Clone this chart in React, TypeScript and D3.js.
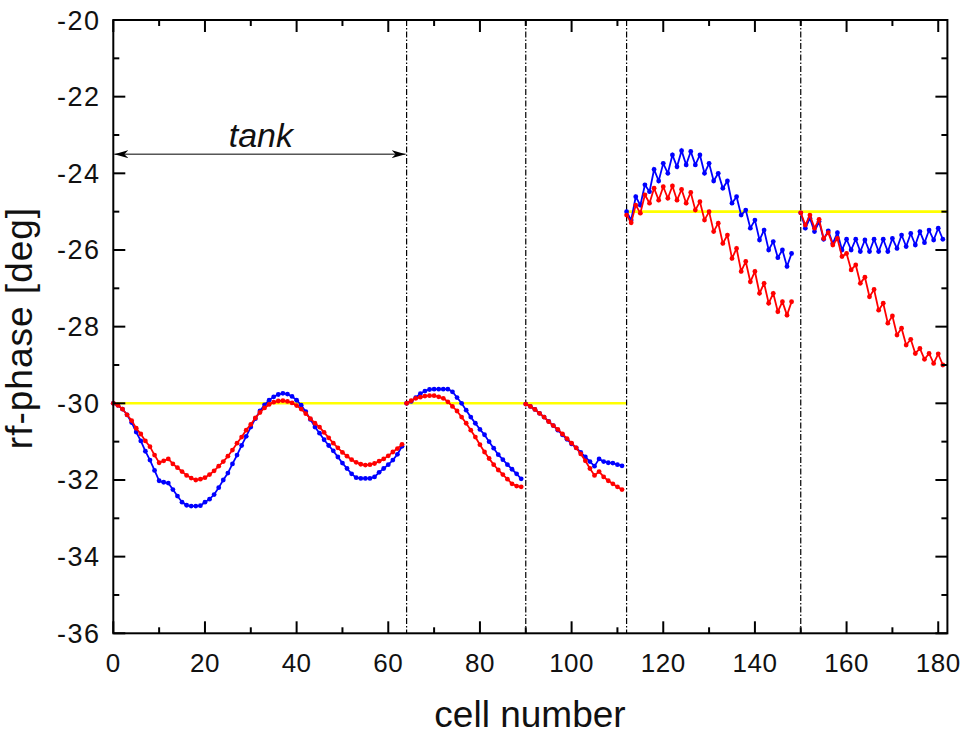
import React from "react";
import * as d3 from "d3";

// cells where each accelerating section starts, and the tank boundaries
const sectionStarts = [0, 64, 90, 112, 150];
const dividers = [64, 90, 112, 150];

// design phase (yellow)
const designFrom = [0, 112];
const designTo = [112, 182];
const designPhase = [-30, -25];

// red series, one array per section
const redPhase = [
  [-30.0, -30.05, -30.15, -30.3, -30.45, -30.65, -30.8, -30.98, -31.13, -31.35,
   -31.55, -31.5, -31.45, -31.58, -31.68, -31.78, -31.88, -31.95, -32.0, -31.98,
   -31.94, -31.86, -31.76, -31.64, -31.52, -31.38, -31.22, -31.04, -30.88, -30.7,
   -30.55, -30.38, -30.24, -30.12, -30.03, -29.97, -29.94, -29.93, -29.95, -29.99,
   -30.06, -30.15, -30.27, -30.4, -30.52, -30.62, -30.76, -30.9, -31.04, -31.16,
   -31.28, -31.38, -31.47, -31.54, -31.59, -31.61, -31.6, -31.57, -31.51, -31.45,
   -31.37, -31.27, -31.18, -31.07],
  [-30.0, -29.93, -29.87, -29.84, -29.81, -29.8, -29.8, -29.83, -29.87, -29.96,
   -30.08, -30.2, -30.36, -30.52, -30.7, -30.88, -31.08, -31.27, -31.44, -31.6,
   -31.74, -31.86, -31.98, -32.1, -32.16, -32.18],
  [-30.02, -30.08, -30.16, -30.26, -30.36, -30.48, -30.58, -30.68, -30.8, -30.92,
   -31.04, -31.16, -31.32, -31.5, -31.7, -31.88, -31.78, -31.92, -32.02, -32.1,
   -32.18, -32.25],
  [-25.09, -25.29, -24.83, -25.04, -24.56, -24.78, -24.39, -24.7, -24.35, -24.65,
   -24.33, -24.7, -24.42, -24.78, -24.5, -24.96, -24.74, -25.22, -25.0, -25.52,
   -25.3, -25.83, -25.61, -26.22, -25.96, -26.56, -26.3, -26.83, -26.56, -27.13,
   -26.87, -27.39, -27.13, -27.61, -27.35, -27.7, -27.35],
  [-25.03, -25.35, -25.09, -25.43, -25.2, -25.7, -25.55, -25.87, -25.7, -26.17,
   -26.09, -26.52, -26.39, -26.87, -26.71, -27.22, -27.03, -27.57, -27.39, -27.91,
   -27.72, -28.22, -28.04, -28.48, -28.33, -28.7, -28.57, -28.85, -28.7, -28.96,
   -28.71, -29.0],
];

// blue series, one array per section
const bluePhase = [
  [-30.0, -30.05, -30.15, -30.3, -30.5, -30.75, -30.98, -31.25, -31.48, -31.75,
   -32.02, -32.06, -32.08, -32.25, -32.42, -32.58, -32.66, -32.68, -32.68, -32.67,
   -32.58, -32.5, -32.38, -32.2, -32.0, -31.82, -31.58, -31.35, -31.1, -30.86,
   -30.62, -30.4, -30.2, -30.04, -29.92, -29.83, -29.77, -29.74, -29.76, -29.82,
   -29.92, -30.05, -30.22, -30.42, -30.62, -30.78, -30.95, -31.1, -31.24, -31.4,
   -31.56, -31.7, -31.84, -31.94, -31.96, -31.96, -31.96, -31.92, -31.8, -31.7,
   -31.6, -31.48, -31.33, -31.12],
  [-30.0, -29.95, -29.85, -29.75, -29.68, -29.64, -29.63, -29.63, -29.63, -29.63,
   -29.7, -29.85, -30.0, -30.18, -30.36, -30.52, -30.68, -30.82, -31.0, -31.17,
   -31.34, -31.47, -31.6, -31.72, -31.84, -31.97],
  [-30.02, -30.08, -30.16, -30.26, -30.36, -30.47, -30.58, -30.7, -30.82, -30.94,
   -31.06, -31.16, -31.28, -31.4, -31.52, -31.64, -31.45, -31.52, -31.55, -31.56,
   -31.6, -31.63],
  [-25.0, -25.22, -24.61, -24.83, -24.3, -24.48, -23.9, -24.2, -23.74, -24.0,
   -23.52, -23.83, -23.41, -23.78, -23.43, -23.78, -23.52, -24.0, -23.74, -24.2,
   -24.0, -24.39, -24.2, -24.78, -24.61, -25.09, -24.96, -25.43, -25.22, -25.74,
   -25.48, -26.0, -25.78, -26.2, -26.0, -26.43, -26.09],
  [-25.03, -25.43, -25.17, -25.52, -25.26, -25.72, -25.5, -25.83, -25.55, -26.0,
   -25.72, -26.0, -25.72, -26.04, -25.74, -26.04, -25.72, -26.04, -25.72, -26.04,
   -25.7, -25.96, -25.61, -25.91, -25.57, -25.87, -25.52, -25.81, -25.48, -25.74,
   -25.43, -25.72],
];

const xTickLabels = ["0", "20", "40", "60", "80", "100", "120", "140", "160", "180"];
const yTickLabels = ["-20", "-22", "-24", "-26", "-28", "-30", "-32", "-34", "-36"];

const W = 960;
const H = 737;
const plot = { left: 113.3, right: 947.4, top: 20, bottom: 633.3 };
const font = "Arial, 'Liberation Sans', Helvetica, sans-serif";

export default function App() {
  const x = d3.scaleLinear().domain([0, 182]).range([plot.left, plot.right]);
  const y = d3.scaleLinear().domain([-36, -20]).range([plot.bottom, plot.top]);

  const toPts = (sec: number[][]) =>
    sec.map((vals, s) => vals.map((v, i) => ({ c: sectionStarts[s] + i, v })));
  const red = toPts(redPhase);
  const blue = toPts(bluePhase);

  const line = d3
    .line<{ c: number; v: number }>()
    .x((d) => x(d.c))
    .y((d) => y(d.v));

  const xMajor = d3.range(0, 181, 20);
  const xMinor = d3.range(10, 181, 20);
  const yMajor = d3.range(-36, -19, 2);
  const yMinor = d3.range(-35, -20, 2);

  const series = (data: { c: number; v: number }[][], color: string) => (
    <g>
      {data.map((seg, i) => (
        <g key={i}>
          <path d={line(seg) || ""} fill="none" stroke={color} strokeWidth={1.8} />
          {seg.map((d, j) => (
            <circle key={j} cx={x(d.c)} cy={y(d.v)} r={2.4} fill={color} />
          ))}
        </g>
      ))}
    </g>
  );

  const arrowY = y(-23.5);

  return (
    <svg
      width={W}
      height={H}
      style={{ position: "absolute", left: 0, top: 0, background: "#fff" }}
    >
      <defs>
        <marker id="ah" viewBox="0 0 14 8" refX="14" refY="4" markerWidth="14" markerHeight="8"
          markerUnits="userSpaceOnUse" orient="auto-start-reverse">
          <path d="M0,0 L14,4 L0,8 L4,4 Z" fill="#000" />
        </marker>
      </defs>

      {/* design phase */}
      {designPhase.map((v, i) => (
        <line key={i} x1={x(designFrom[i])} x2={x(designTo[i])} y1={y(v)} y2={y(v)}
          stroke="#ffff00" strokeWidth={2.6} />
      ))}

      {/* tank boundaries */}
      {dividers.map((c) => (
        <line key={c} x1={x(c)} x2={x(c)} y1={plot.top} y2={plot.bottom}
          stroke="#000" strokeWidth={1.2} strokeDasharray="6,2,1.5,2" />
      ))}

      {series(blue, "#0000ff")}
      {series(red, "#ff0000")}

      {/* tank arrow */}
      <line x1={x(0) + 1} x2={x(64) - 1} y1={arrowY} y2={arrowY} stroke="#000" strokeWidth={1}
        markerStart="url(#ah)" markerEnd="url(#ah)" />
      <text x={x(32.2)} y={147} textAnchor="middle" fontFamily={font} fontStyle="italic"
        fontSize={34} fill="#111">tank</text>

      {/* frame */}
      <rect x={plot.left} y={plot.top} width={plot.right - plot.left} height={plot.bottom - plot.top}
        fill="none" stroke="#000" strokeWidth={2} />

      {/* ticks, inward on all four sides */}
      <g stroke="#000" strokeWidth={2}>
        {xMajor.map((t) => (
          <g key={"xM" + t}>
            <line x1={x(t)} x2={x(t)} y1={plot.bottom} y2={plot.bottom - 12} />
            <line x1={x(t)} x2={x(t)} y1={plot.top} y2={plot.top + 12} />
          </g>
        ))}
        {xMinor.map((t) => (
          <g key={"xm" + t}>
            <line x1={x(t)} x2={x(t)} y1={plot.bottom} y2={plot.bottom - 6} />
            <line x1={x(t)} x2={x(t)} y1={plot.top} y2={plot.top + 6} />
          </g>
        ))}
        {yMajor.map((t) => (
          <g key={"yM" + t}>
            <line x1={plot.left} x2={plot.left + 12} y1={y(t)} y2={y(t)} />
            <line x1={plot.right} x2={plot.right - 12} y1={y(t)} y2={y(t)} />
          </g>
        ))}
        {yMinor.map((t) => (
          <g key={"ym" + t}>
            <line x1={plot.left} x2={plot.left + 6} y1={y(t)} y2={y(t)} />
            <line x1={plot.right} x2={plot.right - 6} y1={y(t)} y2={y(t)} />
          </g>
        ))}
      </g>

      {/* tick labels */}
      <g fontFamily={font} fill="#111">
        {xMajor.map((t, i) => (
          <text key={"xl" + t} x={x(t)} y={672} textAnchor="middle" fontSize={26}
            letterSpacing={0.5}>{xTickLabels[i]}</text>
        ))}
        {yMajor.map((t, i) => (
          <text key={"yl" + t} x={100.5} y={y(t) + 9.5} textAnchor="end" fontSize={27}
            letterSpacing={1.5}>
            {yTickLabels[yTickLabels.length - 1 - i]}
          </text>
        ))}
      </g>

      {/* axis titles */}
      <text x={530} y={727} textAnchor="middle" fontFamily={font} fontSize={37} fill="#111">
        cell number
      </text>
      <text transform="translate(32,328) rotate(-90)" textAnchor="middle" fontFamily={font}
        fontSize={37} fill="#111" letterSpacing={1}>
        rf-phase [deg]
      </text>
    </svg>
  );
}
